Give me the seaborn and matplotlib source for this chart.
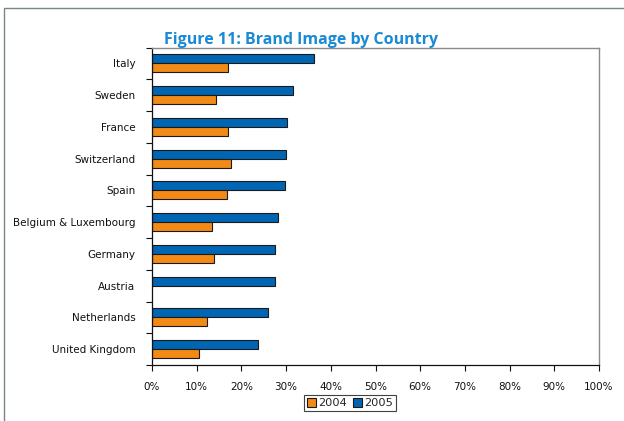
import matplotlib
matplotlib.use("Agg")
import matplotlib.pyplot as plt
import seaborn as sns
import pandas as pd
import numpy as np
from matplotlib.patches import Rectangle, Patch
from matplotlib.ticker import FixedLocator

countries = ["Italy", "Sweden", "France", "Switzerland", "Spain",
             "Belgium & Luxembourg", "Germany", "Austria", "Netherlands",
             "United Kingdom"]
values_2004 = [17.1, 14.4, 17.1, 17.6, 16.7, 13.4, 13.8, np.nan, 12.2, 10.6]
values_2005 = [36.2, 31.5, 30.3, 30.0, 29.8, 28.1, 27.6, 27.5, 25.9, 23.8]
years = ["2004", "2005"]
x_ticks = [0, 10, 20, 30, 40, 50, 60, 70, 80, 90, 100]
x_tick_labels = [f"{t}%" for t in x_ticks]
title = "Figure 11: Brand Image by Country"

color_2004 = "#F28A16"
color_2005 = "#0066B3"

df = pd.DataFrame({
    "Country": countries * 2,
    "Year": ["2004"] * len(countries) + ["2005"] * len(countries),
    "Value": values_2004 + values_2005,
})

sns.set_theme(style="white")
plt.rcParams["font.family"] = ["DejaVu Sans"]

fig = plt.figure(figsize=(6.24, 4.21), dpi=100)
ax = fig.add_axes([152 / 624, 1 - 365 / 421, (599 - 152) / 624, (365 - 47.5) / 421])

sns.barplot(data=df, y="Country", x="Value", hue="Year",
            order=countries, hue_order=["2005", "2004"],
            palette={"2004": color_2004, "2005": color_2005},
            saturation=1, orient="h", width=0.57, edgecolor="#1a1a1a", linewidth=0.8,
            errorbar=None, legend=False, ax=ax)

ax.set_xlim(0, 100)
ax.set_ylim(len(countries) - 0.5, -0.5)
ax.set_xticks(x_ticks)
ax.set_xticklabels(x_tick_labels, fontsize=7.5, color="#111111")
ax.set_yticks(range(len(countries)))
ax.set_yticklabels(countries, fontsize=7.5, color="#111111")
ax.yaxis.set_minor_locator(FixedLocator(np.arange(-0.5, len(countries) + 0.5, 1)))
ax.tick_params(axis="y", which="major", length=0, pad=12)
ax.tick_params(axis="y", which="minor", length=4, width=0.8, color="#111111", direction="out", left=True)
ax.tick_params(axis="x", which="major", length=4, width=0.8, color="#111111", direction="out", bottom=True, pad=8)
ax.set_xlabel("")
ax.set_ylabel("")
ax.grid(False)

for side in ["left", "bottom"]:
    ax.spines[side].set_color("#111111")
    ax.spines[side].set_linewidth(0.9)
for side in ["top", "right"]:
    ax.spines[side].set_color("#8a8a8a")
    ax.spines[side].set_linewidth(1.0)
    ax.spines[side].set_visible(True)

fig.text(301.5 / 624, 1 - 40 / 421, title, ha="center", va="center",
         fontsize=11.5, fontweight="bold", color="#1A8AD4", family=["Open Sans", "DejaVu Sans"])

# outer frame
fig.patches.append(Rectangle((4 / 624, -0.2), 1.2, 1.2 - 7.5 / 421, transform=fig.transFigure,
                             fill=False, edgecolor="#7a8585", linewidth=1.0))

handles = [Patch(facecolor=color_2004, edgecolor="#1a1a1a", linewidth=0.8, label="2004"),
           Patch(facecolor=color_2005, edgecolor="#1a1a1a", linewidth=0.8, label="2005")]
leg = fig.legend(handles=handles, loc="center", bbox_to_anchor=(350 / 624, 1 - 403 / 421),
                 ncol=2, frameon=True, fontsize=8.2, handlelength=0.8, handleheight=0.8,
                 handletextpad=0.2, columnspacing=0.5, borderpad=0.25, fancybox=False,
                 borderaxespad=0)
leg.get_frame().set_edgecolor("#111111")
leg.get_frame().set_linewidth(0.8)

fig.savefig("out.png", dpi=100)
